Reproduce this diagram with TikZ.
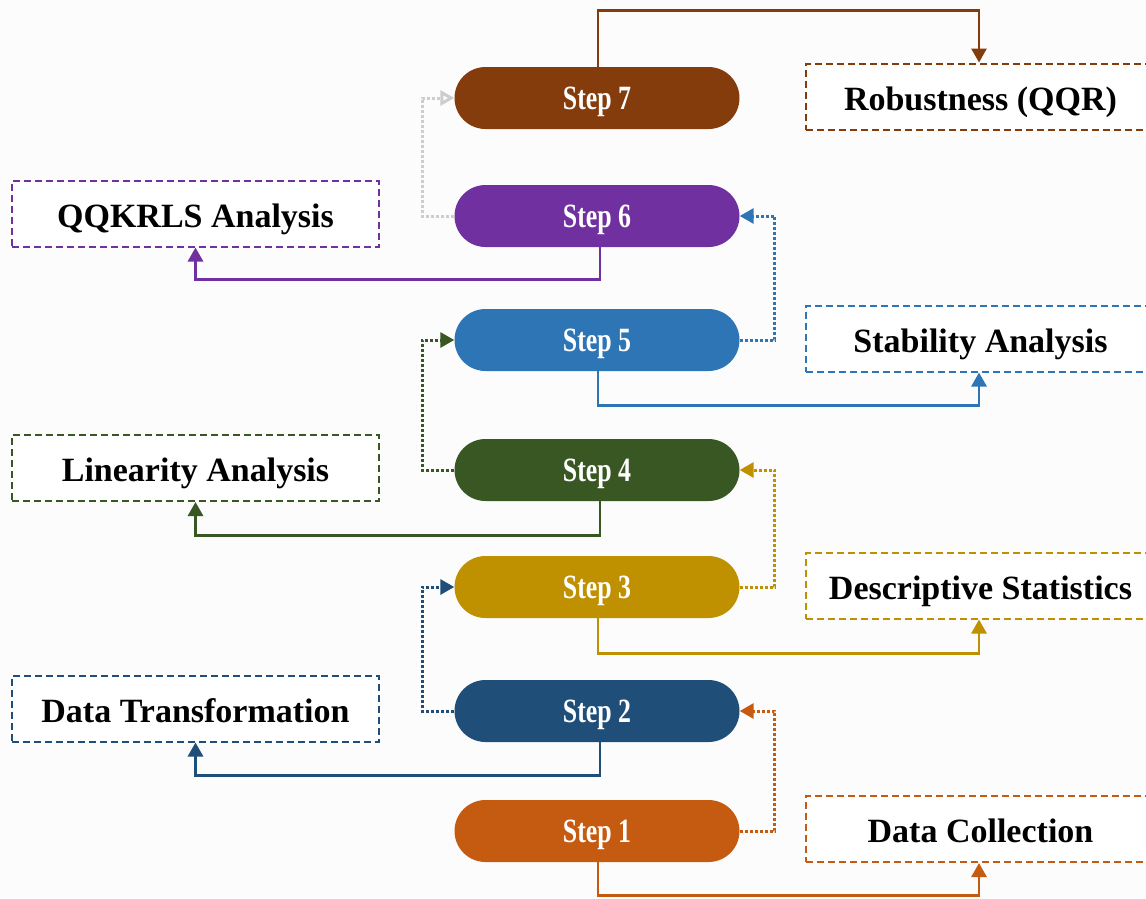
\documentclass[tikz,border=0pt]{standalone}
\usepackage{fontspec}
\setmainfont{Liberation Serif}
\newfontfamily\stepfont{Liberation Serif}[FakeStretch=0.76]
\usetikzlibrary{arrows.meta}

\definecolor{bgc}{RGB}{252,252,252}
\definecolor{c1}{RGB}{197,90,17}
\definecolor{c2}{RGB}{31,78,121}
\definecolor{c3}{RGB}{191,144,0}
\definecolor{c4}{RGB}{56,87,35}
\definecolor{c5}{RGB}{46,117,182}
\definecolor{c6}{RGB}{112,48,160}
\definecolor{c7}{RGB}{132,60,12}
\definecolor{c67}{RGB}{205,205,205}

\tikzset{
  pill/.style={fill=#1, draw=none, rounded corners=31pt,
    minimum width=285pt, minimum height=62pt, inner sep=0pt,
    text height=22pt, text depth=0pt,
    text=white, font=\stepfont\bfseries\fontsize{34}{38}\selectfont},
  labelbox/.style={draw=#1, fill=white, dash pattern=on 7pt off 4pt,
    line width=2pt, minimum height=66pt, inner sep=0pt,
    text height=27pt, text depth=0pt,
    font=\bfseries\fontsize{34}{40}\selectfont},
  leftbox/.style={labelbox=#1, minimum width=367pt},
  rightbox/.style={labelbox=#1, minimum width=349pt},
  flow/.style={draw=#1, line width=3pt, dash pattern=on 3pt off 2pt,
    -{Triangle[length=14pt,width=15pt]}},
  result/.style={draw=#1, line width=2.8pt,
    -{Triangle[length=14pt,width=15pt]}},
}

\begin{document}
\begin{tikzpicture}[x=1pt,y=-1pt]
  % canvas
  \fill[bgc] (0,0) rectangle (1146,898);
  \useasboundingbox (0,0) rectangle (1146,898);

  % the seven steps
  \node[pill=c7] (s7) at (597,98)  {Step 7};
  \node[pill=c6] (s6) at (597,216) {Step 6};
  \node[pill=c5] (s5) at (597,340) {Step 5};
  \node[pill=c4] (s4) at (597,470) {Step 4};
  \node[pill=c3] (s3) at (597,587) {Step 3};
  \node[pill=c2] (s2) at (597,711) {Step 2};
  \node[pill=c1] (s1) at (597,831) {Step 1};

  % outcomes on the left
  \node[leftbox=c6] (qq)  at (195.5,213.5) {QQKRLS Analysis};
  \node[leftbox=c4] (lin) at (195.5,468)   {Linearity Analysis};
  \node[leftbox=c2] (dt)  at (195.5,708.5) {Data Transformation};

  % outcomes on the right (their right edges run past the page)
  \node[rightbox=c7] (rob)  at (980.5,96.5)  {Robustness (QQR)};
  \node[rightbox=c5] (stab) at (980.5,338.5) {Stability Analysis};
  \node[rightbox=c3] (desc) at (980.5,585.5) {Descriptive Statistics};
  \node[rightbox=c1] (dc)   at (980.5,829)   {Data Collection};

  % step to step
  \draw[flow=c1] (s1.east) -- ++(35,0) |- (s2.east);
  \draw[flow=c2] (s2.west) -- ++(-32,0) |- (s3.west);
  \draw[flow=c3] (s3.east) -- ++(35,0) |- (s4.east);
  \draw[flow=c4] (s4.west) -- ++(-32,0) |- (s5.west);
  \draw[flow=c5] (s5.east) -- ++(35,0) |- (s6.east);
  \draw[flow=c67, -{Triangle[open,length=14pt,width=15pt]}]
    (s6.west) -- ++(-32,0) |- (s7.west);

  % step to outcome
  \draw[result=c1] ([xshift=1pt]s1.south) -- ++(0,33) -| ([xshift=-1.5pt]dc.south);
  \draw[result=c2] ([xshift=3pt]s2.south) -- ++(0,33) -| (dt.south);
  \draw[result=c3] ([xshift=1pt]s3.south) -- ++(0,35) -| ([xshift=-1.5pt]desc.south);
  \draw[result=c4] ([xshift=3pt]s4.south) -- ++(0,34) -| (lin.south);
  \draw[result=c5] ([xshift=1pt]s5.south) -- ++(0,34) -| ([xshift=-1.5pt]stab.south);
  \draw[result=c6] ([xshift=3pt]s6.south) -- ++(0,32) -| (qq.south);
  \draw[result=c7] ([xshift=1pt]s7.north) -- ++(0,-56) -| ([xshift=-1.5pt]rob.north);
\end{tikzpicture}
\end{document}
